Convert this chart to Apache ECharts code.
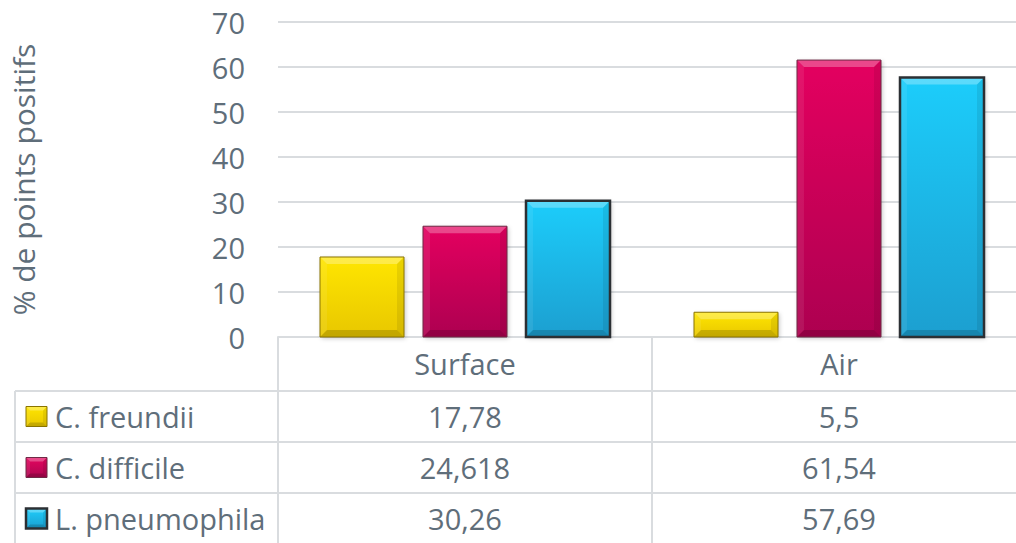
<!DOCTYPE html>
<html>
<head>
<meta charset="utf-8">
<script src="https://cdn.jsdelivr.net/npm/echarts@6/dist/echarts.min.js"></script>
<style>
  html, body { margin: 0; padding: 0; background: #ffffff; }
  #chart { width: 1016px; height: 543px; }
</style>
</head>
<body>
<div id="chart"></div>
<script>
// Sampling results: share of positive sampling points per site type
const categories = ['Surface', 'Air'];
const seriesNames = ['C. freundii', 'C. difficile', 'L. pneumophila'];
const freundii = [17.78, 5.5];
const difficile = [24.618, 61.54];
const pneumophila = [30.26, 57.69];
const yTickValues = [0, 10, 20, 30, 40, 50, 60, 70];
const yAxisTitle = '% de points positifs';

const seriesValues = [freundii, difficile, pneumophila];

// Visual settings
const FONT = '"Open Sans", "Noto Sans", sans-serif';
const TEXT_COLOR = '#5f6e7a';
const LINE_COLOR = '#d9dcdf';
const FONT_SIZE = 29;
const GRID = { left: 278, right: -10, top: 22, bottom: 206 };
const BAR_FRAC = 0.2246;   // bar width as a share of the category band
const STEP_FRAC = 0.2754;  // distance between neighbouring bar centres
const BEVEL = 7;

const barStyles = [
  { top: '#ffe600', bottom: '#e8c700', border: '#8a7400', borderWidth: 1 },
  { top: '#e4065f', bottom: '#ad0650', border: '#6e2a45', borderWidth: 1 },
  { top: '#1fcdfb', bottom: '#1a9fd0', border: '#2b2f33', borderWidth: 2.5 }
];

// Rectangle with bevelled edges: gradient body, lit top, shaded bottom
function bevelShapes(x0, y0, w, h, bev, st, withShadow) {
  const x1 = x0 + w, y1 = y0 + h;
  const b = Math.max(0, Math.min(bev, h / 2, w / 2));
  const body = new echarts.graphic.LinearGradient(0, 0, 0, 1, [
    { offset: 0, color: st.top },
    { offset: 1, color: st.bottom }
  ]);
  const kids = [];
  kids.push({
    type: 'rect',
    shape: { x: x0, y: y0, width: w, height: h },
    style: withShadow
      ? { fill: body, shadowBlur: 4, shadowColor: 'rgba(0,0,0,0.22)', shadowOffsetX: 1.5, shadowOffsetY: 1.5 }
      : { fill: body }
  });
  kids.push({ type: 'polygon', shape: { points: [[x0, y0], [x1, y0], [x1 - b, y0 + b], [x0 + b, y0 + b]] },
    style: { fill: 'rgba(255,255,255,0.28)' } });
  kids.push({ type: 'polygon', shape: { points: [[x0, y0], [x0 + b, y0 + b], [x0 + b, y1 - b], [x0, y1]] },
    style: { fill: 'rgba(255,255,255,0.08)' } });
  kids.push({ type: 'polygon', shape: { points: [[x1, y0], [x1, y1], [x1 - b, y1 - b], [x1 - b, y0 + b]] },
    style: { fill: 'rgba(0,0,0,0.08)' } });
  kids.push({ type: 'polygon', shape: { points: [[x0, y1], [x1, y1], [x1 - b, y1 - b], [x0 + b, y1 - b]] },
    style: { fill: 'rgba(0,0,0,0.16)' } });
  kids.push({
    type: 'rect',
    shape: { x: x0, y: y0, width: w, height: h },
    style: { fill: 'none', stroke: st.border, lineWidth: st.borderWidth }
  });
  return kids;
}

function bevelBar(seriesIdx) {
  return function (params, api) {
    const cat = api.value(0);
    const val = api.value(1);
    const base = api.coord([cat, 0]);
    const top = api.coord([cat, val]);
    const band = api.size([1, 0])[0];
    const w = band * BAR_FRAC;
    const cx = base[0] + (seriesIdx - 1) * band * STEP_FRAC;
    return {
      type: 'group',
      children: bevelShapes(cx - w / 2, top[1], w, base[1] - top[1], BEVEL, barStyles[seriesIdx], true)
    };
  };
}

const chart = echarts.init(document.getElementById('chart'), null, { renderer: 'svg' });

const option = {
  backgroundColor: '#ffffff',
  animation: false,
  grid: Object.assign({ outerBoundsMode: 'none', containLabel: false }, GRID),
  xAxis: {
    type: 'category',
    data: categories,
    axisLine: { show: true, lineStyle: { color: LINE_COLOR, width: 2 } },
    axisTick: { show: true, length: GRID.bottom, lineStyle: { color: LINE_COLOR, width: 2 } },
    axisLabel: { color: TEXT_COLOR, fontFamily: FONT, fontSize: FONT_SIZE, margin: 12 },
    splitLine: { show: false }
  },
  yAxis: {
    type: 'value',
    min: yTickValues[0],
    max: yTickValues[yTickValues.length - 1],
    interval: yTickValues[1] - yTickValues[0],
    name: yAxisTitle,
    nameLocation: 'middle',
    nameRotate: 90,
    nameGap: 240,
    nameTextStyle: { color: TEXT_COLOR, fontFamily: FONT, fontSize: 30 },
    axisLine: { show: false },
    axisTick: { show: false },
    axisLabel: { color: TEXT_COLOR, fontFamily: FONT, fontSize: FONT_SIZE, margin: 33 },
    splitLine: { show: true, lineStyle: { color: LINE_COLOR, width: 2 } }
  },
  series: seriesNames.map(function (name, i) {
    return {
      name: name,
      type: 'custom',
      renderItem: bevelBar(i),
      encode: { x: 0, y: 1 },
      data: seriesValues[i].map(function (v, c) { return [c, v]; }),
      z: 3
    };
  })
};

chart.setOption(option);

// Data table beneath the axis: one row per series, one column per category
function buildTable() {
  const axisY = chart.convertToPixel({ yAxisIndex: 0 }, 0);
  const tableLeft = 15;
  const headerH = 54;
  const rowH = 51;
  const width = chart.getWidth();
  const firstRowTop = axisY + headerH;
  const elements = [];

  // horizontal rules
  for (let r = 0; r < seriesNames.length; r++) {
    const y = firstRowTop + r * rowH;
    elements.push({
      type: 'line', z: 5,
      shape: { x1: tableLeft, y1: y, x2: width, y2: y },
      style: { stroke: LINE_COLOR, lineWidth: 2 }
    });
  }
  // left border of the legend column
  elements.push({
    type: 'line', z: 5,
    shape: { x1: tableLeft, y1: firstRowTop, x2: tableLeft, y2: chart.getHeight() },
    style: { stroke: LINE_COLOR, lineWidth: 2 }
  });

  const fmt = function (v) { return String(v).replace('.', ','); };

  seriesNames.forEach(function (name, r) {
    const cy = firstRowTop + r * rowH + rowH / 2;
    // legend key
    elements.push({
      type: 'group', z: 6,
      children: bevelShapes(26, cy - 10, 21, 20, 4, barStyles[r], false)
    });
    elements.push({
      type: 'text', z: 6,
      style: {
        x: 55, y: cy, text: name, fill: TEXT_COLOR,
        font: FONT_SIZE + 'px ' + FONT, textAlign: 'left', textVerticalAlign: 'middle'
      }
    });
    categories.forEach(function (cat, c) {
      const cx = chart.convertToPixel({ xAxisIndex: 0 }, cat);
      elements.push({
        type: 'text', z: 6,
        style: {
          x: cx, y: cy, text: fmt(seriesValues[r][c]), fill: TEXT_COLOR,
          font: FONT_SIZE + 'px ' + FONT, textAlign: 'center', textVerticalAlign: 'middle'
        }
      });
    });
  });

  chart.setOption({ graphic: { elements: elements } });
}

buildTable();
</script>
</body>
</html>
